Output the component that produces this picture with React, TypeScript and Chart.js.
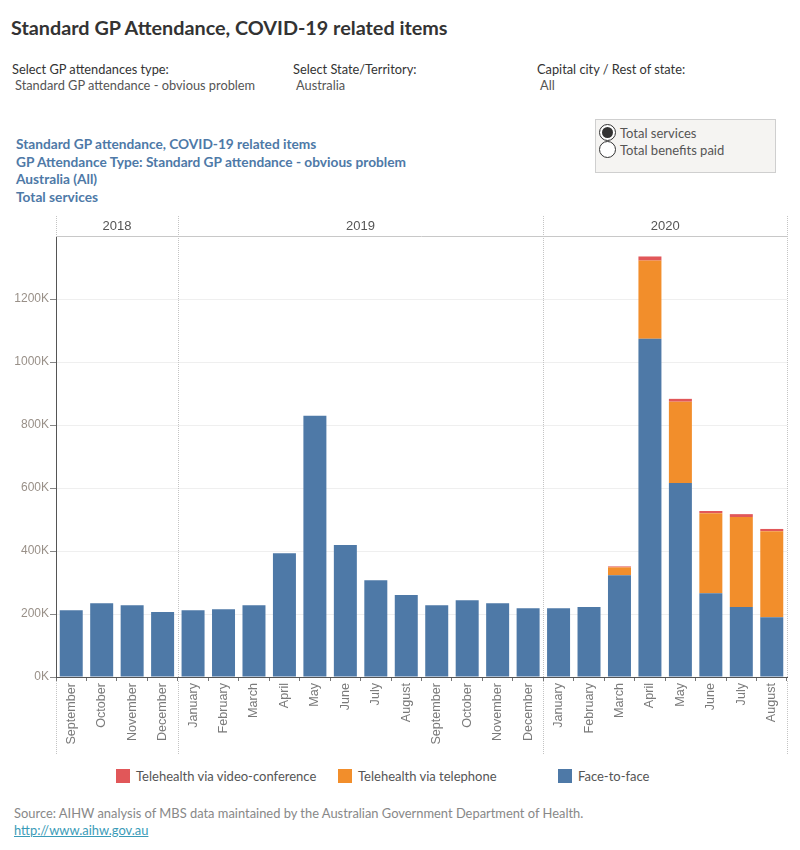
import React, { useEffect, useRef } from "react";
import { Chart, registerables } from "chart.js";

Chart.register(...registerables);

const months = [
  "September", "October", "November", "December",
  "January", "February", "March", "April", "May", "June", "July", "August",
  "September", "October", "November", "December",
  "January", "February", "March", "April", "May", "June", "July", "August",
];
const years = ["2018", "2019", "2020"];
const yearMonthCounts = [4, 12, 8];

const faceToFace = [
  212000, 234000, 228000, 206000,
  212000, 215000, 228000, 393000, 829000, 419000, 307000, 260000,
  228000, 244000, 234000, 218000,
  218000, 222000, 323000, 1074000, 616000, 266000, 222000, 190000,
];
const telephone = [
  0, 0, 0, 0,
  0, 0, 0, 0, 0, 0, 0, 0,
  0, 0, 0, 0,
  0, 0, 25000, 248000, 258000, 254000, 286000, 273000,
];
const videoConference = [
  0, 0, 0, 0,
  0, 0, 0, 0, 0, 0, 0, 0,
  0, 0, 0, 0,
  0, 0, 3000, 13000, 9000, 7000, 9000, 7000,
];

const seriesNames = ["Telehealth via video-conference", "Telehealth via telephone", "Face-to-face"];
const colors = { video: "#e15759", phone: "#f28e2b", face: "#4e79a7" };

const FONT = "Lato, 'Open Sans', sans-serif";
const AXIS_FONT = "'Liberation Sans', Arial, sans-serif";

const headerPlugin = {
  id: "yearHeader",
  afterDraw(chart: any) {
    const ctx = chart.ctx;
    const xs = chart.scales.x;
    const area = chart.chartArea;
    const n = months.length;
    const edge = (i: number) => {
      if (i <= 0) return xs.left;
      if (i >= n) return xs.right;
      return (xs.getPixelForValue(i - 1) + xs.getPixelForValue(i)) / 2;
    };
    const headerTop = area.top - 20;
    const labelsBottom = area.bottom + 78;
    ctx.save();
    ctx.strokeStyle = "#c8c8c8";
    ctx.lineWidth = 1;
    ctx.beginPath();
    ctx.moveTo(xs.left, area.top + 0.5);
    ctx.lineTo(xs.right, area.top + 0.5);
    ctx.stroke();
    ctx.strokeStyle = "#c4c4c4";
    ctx.setLineDash([1, 1]);
    const bounds: number[] = [0];
    let acc = 0;
    yearMonthCounts.forEach((c) => {
      acc += c;
      bounds.push(acc);
    });
    bounds.forEach((b, idx) => {
      const x = Math.round(edge(b)) + 0.5;
      ctx.beginPath();
      ctx.moveTo(x, headerTop);
      ctx.lineTo(x, area.top);
      ctx.stroke();
      if (idx > 0) {
        ctx.beginPath();
        ctx.moveTo(x, area.top);
        ctx.lineTo(x, area.bottom);
        ctx.stroke();
      }
      ctx.beginPath();
      ctx.moveTo(x, area.bottom + 4);
      ctx.lineTo(x, labelsBottom);
      ctx.stroke();
    });
    ctx.setLineDash([]);
    ctx.fillStyle = "#555555";
    ctx.font = "13px " + AXIS_FONT;
    ctx.textAlign = "center";
    ctx.textBaseline = "middle";
    years.forEach((y, i) => {
      const x0 = edge(bounds[i]);
      const x1 = edge(bounds[i + 1]);
      ctx.fillText(y, (x0 + x1) / 2, area.top - 10);
    });
    ctx.restore();
  },
};

function ChartCanvas() {
  const ref = useRef<HTMLCanvasElement | null>(null);
  useEffect(() => {
    if (!ref.current) return;
    const chart = new Chart(ref.current, {
      type: "bar",
      data: {
        labels: months,
        datasets: [
          { label: seriesNames[2], data: faceToFace, backgroundColor: colors.face, stack: "s" },
          { label: seriesNames[1], data: telephone, backgroundColor: colors.phone, stack: "s" },
          { label: seriesNames[0], data: videoConference, backgroundColor: colors.video, stack: "s" },
        ],
      },
      options: {
        responsive: false,
        animation: false,
        layout: { padding: { left: 0, right: 13, top: 26, bottom: 0 } },
        plugins: { legend: { display: false }, tooltip: { enabled: false } },
        datasets: { bar: { categoryPercentage: 1, barPercentage: 0.755 } },
        scales: {
          x: {
            stacked: true,
            grid: {
              display: true,
              drawOnChartArea: false,
              offset: true,
              tickLength: 4,
              tickColor: "#777777",
            },
            border: { display: true, color: "#555555", width: 1 },
            ticks: {
              minRotation: 90,
              maxRotation: 90,
              autoSkip: false,
              padding: 2,
              color: "#7a7a7a",
              font: { family: AXIS_FONT, size: 12.6 },
            },
            afterFit(scale: any) {
              scale.height = 83;
            },
          },
          y: {
            stacked: true,
            min: 0,
            max: 1400000,
            grid: { color: "#efefef", tickLength: 6, tickColor: "#888888" },
            border: { display: true, color: "#555555", width: 1 },
            ticks: {
              stepSize: 200000,
              padding: 1,
              color: "#999088",
              font: { family: AXIS_FONT, size: 12 },
              callback: (v: any) => Math.round(Number(v) / 1000) + "K",
            },
            afterBuildTicks(scale: any) {
              scale.ticks = scale.ticks.filter((t: any) => t.value <= 1200000);
            },
            afterFit(scale: any) {
              scale.width = 56;
            },
          },
        },
      },
      plugins: [headerPlugin],
    });
    return () => chart.destroy();
  }, []);
  return (
    <canvas
      ref={ref}
      width={800}
      height={550}
      style={{ position: "absolute", left: 0, top: 210, width: 800, height: 550 }}
    />
  );
}

const abs = (left: number, top: number, extra: React.CSSProperties = {}): React.CSSProperties => ({
  position: "absolute",
  left,
  top,
  whiteSpace: "nowrap",
  fontFamily: FONT,
  ...extra,
});

export default function App() {
  useEffect(() => {
    document.body.style.margin = "0";
  }, []);
  const legendItems = [
    { name: seriesNames[0], color: colors.video, x: 116 },
    { name: seriesNames[1], color: colors.phone, x: 338 },
    { name: seriesNames[2], color: colors.face, x: 558 },
  ];
  return (
    <div style={{ position: "absolute", left: 0, top: 0, width: 800, height: 850, background: "#fff", overflow: "hidden" }}>
      <div style={abs(11, 14, { fontSize: 19.8, fontWeight: 700, color: "#333", lineHeight: "26px" })}>
        Standard GP Attendance, COVID-19 related items
      </div>

      <div style={abs(12, 61, { fontSize: 12.8, color: "#333", lineHeight: "16px" })}>Select GP attendances type:</div>
      <div style={abs(15, 77, { fontSize: 12.8, color: "#555", lineHeight: "16px" })}>Standard GP attendance - obvious problem</div>
      <div style={abs(293, 61, { fontSize: 12.8, color: "#333", lineHeight: "16px" })}>Select State/Territory:</div>
      <div style={abs(296, 77, { fontSize: 12.8, color: "#555", lineHeight: "16px" })}>Australia</div>
      <div style={abs(537, 61, { fontSize: 12.8, color: "#333", lineHeight: "16px" })}>Capital city / Rest of state:</div>
      <div style={abs(540, 77, { fontSize: 12.8, color: "#555", lineHeight: "16px" })}>All</div>

      <div style={abs(16, 135, { fontSize: 13.7, fontWeight: 700, color: "#4e79a7", lineHeight: "17.7px" })}>
        <div>Standard GP attendance, COVID-19 related items</div>
        <div>GP Attendance Type: Standard GP attendance - obvious problem</div>
        <div>Australia (All)</div>
        <div>Total services</div>
      </div>

      <div
        style={{
          position: "absolute",
          left: 595,
          top: 119,
          width: 179,
          height: 52,
          background: "#f5f4f2",
          border: "1px solid #cfcfcf",
        }}
      />
      {[{ t: "Total services", y: 133, on: true }, { t: "Total benefits paid", y: 150, on: false }].map((r) => (
        <React.Fragment key={r.t}>
          <div
            style={{
              position: "absolute",
              left: 599,
              top: r.y - 9,
              width: 17,
              height: 17,
              borderRadius: "50%",
              border: "1px solid #333",
              background: "#fff",
              boxSizing: "border-box",
            }}
          />
          {r.on && (
            <div
              style={{
                position: "absolute",
                left: 602,
                top: r.y - 6,
                width: 11,
                height: 11,
                borderRadius: "50%",
                background: "#333",
              }}
            />
          )}
          <div style={abs(620, r.y - 8, { fontSize: 13, color: "#555", lineHeight: "16px" })}>{r.t}</div>
        </React.Fragment>
      ))}

      <ChartCanvas />

      {legendItems.map((it) => (
        <React.Fragment key={it.name}>
          <div style={{ position: "absolute", left: it.x, top: 769, width: 14, height: 14, background: it.color }} />
          <div style={abs(it.x + 20, 768, { fontSize: 13, color: "#555", lineHeight: "16px" })}>{it.name}</div>
        </React.Fragment>
      ))}

      <div style={abs(14, 805, { fontSize: 12.9, color: "#888", lineHeight: "17px" })}>
        Source: AIHW analysis of MBS data maintained by the Australian Government Department of Health.
      </div>
      <div style={abs(14, 822, { fontSize: 12.9, color: "#3a9bb8", lineHeight: "17px", textDecoration: "underline" })}>
        http://www.aihw.gov.au
      </div>
    </div>
  );
}
